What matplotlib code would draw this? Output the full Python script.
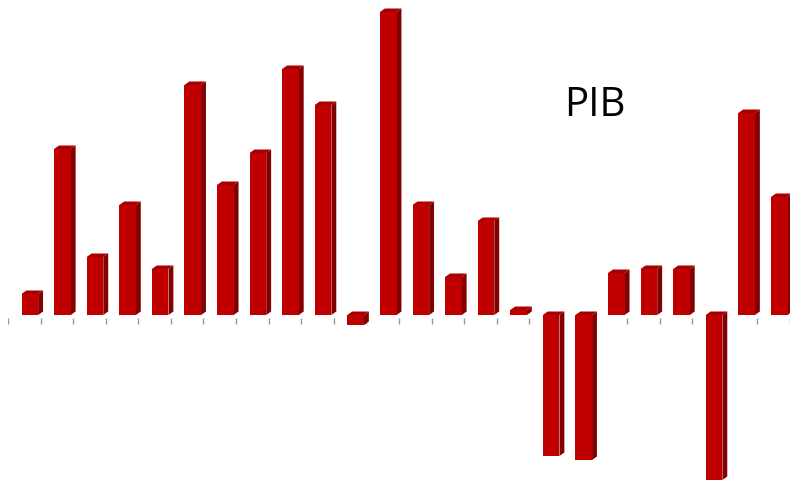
import numpy as np
import matplotlib
matplotlib.use('Agg')
import matplotlib.pyplot as plt
from matplotlib.patches import Polygon

# values (arbitrary units, baseline = 0)
periods = list(range(1, 25))
pib = [21, 166, 58, 110, 46, 230, 130, 162, 246, 210, -10, 303,
       110, 38, 94, 5, -141, -145, 42, 46, 46, -165, 202, 118]

front_col = '#c00000'
side_col = '#820000'
top_col = '#a80000'

fig = plt.figure(figsize=(7.98, 4.82), dpi=100)
ax = fig.add_axes([8/798, 0, 782/798, 1])

x = np.arange(len(pib))
off = 0.17       # front face shifted right inside its slot
w = 0.51         # front face width
dx = 0.15        # depth, horizontal
dy = 3.5         # depth, vertical

ax.bar(x + off, pib, width=w, color=front_col, zorder=3, linewidth=0)

for xi, v in zip(x, pib):
    left = xi + off - w/2
    right = xi + off + w/2
    top = max(v, 0)
    bot = min(v, 0)
    # side face
    side = Polygon([(right, bot), (right + dx, bot + dy), (right + dx, top + dy), (right, top)],
                   closed=True, facecolor=side_col, edgecolor='none', zorder=2)
    ax.add_patch(side)
    # top face
    topf = Polygon([(left, top), (left + dx, top + dy), (right + dx, top + dy), (right, top)],
                   closed=True, facecolor=top_col, edgecolor='none', zorder=2)
    ax.add_patch(topf)

# small tick marks at category boundaries
bounds = np.arange(len(pib) + 1) - 0.5
ax.vlines(bounds, -9, -3, color='#999999', lw=1.0, zorder=1)

ax.text(17.51, 209.5, 'PIB', fontsize=29, family='Open Sans', ha='center', va='center')

ax.set_xlim(-0.5, len(pib) - 0.5)
ax.set_ylim(-167, 315)
ax.axis('off')

fig.savefig('out.png', dpi=100)
